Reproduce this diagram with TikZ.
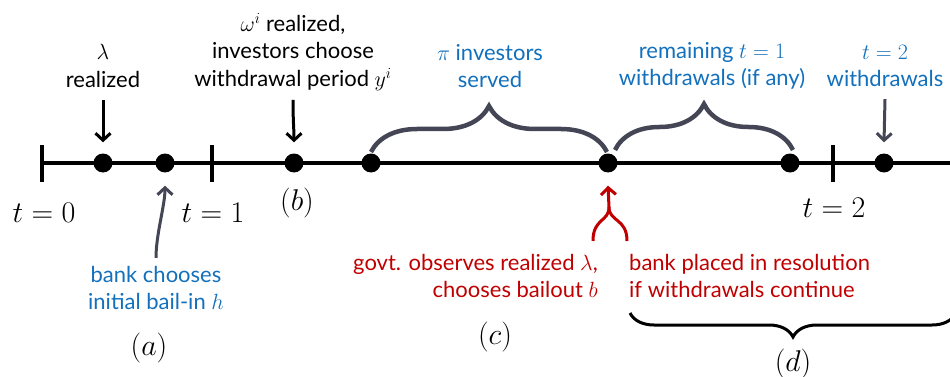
\RequirePackage{fix-cm}
\documentclass[tikz,border=0pt]{standalone}
\usepackage[no-math]{fontspec}
\setmainfont{Lato}
\usetikzlibrary{arrows.meta,calc,decorations.pathreplacing}
\definecolor{blue}{RGB}{18,112,188}
\definecolor{red}{RGB}{192,0,0}
\definecolor{slate}{RGB}{68,70,86}

\begin{document}
\begin{tikzpicture}[x=1pt,y=-1pt,
 dot/.style={circle,fill=black,inner sep=0pt,minimum size=19pt},
 lbl/.style={align=center,inner sep=0pt,font=\fontsize{22}{27.5}\selectfont},
 tlbl/.style={inner sep=0pt,font=\fontsize{30}{34}\selectfont},
 arrow/.style={-{Straight Barb[length=7pt,width=15pt]},line width=3pt},
 brace/.style={decorate,decoration={brace,amplitude=46pt},line width=4.5pt,draw=slate}
]
\useasboundingbox (0,0) rectangle (950,377);
% time line
\draw[line width=4pt] (40,163) -- (955,163);
\foreach \x in {42,212,833}
 \draw[line width=4pt] (\x,145) -- (\x,182);
\foreach \x [count=\i] in {103,165,294,371,608,790,884}
 \node[dot] (d\i) at (\x,163) {};
\node[tlbl] (t0) at (44,213) {$t=0$};
\node[tlbl] (t1) at (213,213) {$t=1$};
\node[tlbl] (t2) at (834,208) {$t=2$};
\node[tlbl] (lb) at (297,203) {$(b)$};
\node[tlbl] (la) at (149,348) {$(a)$};
\node[tlbl] (lc) at (495,337) {$(c)$};
\node[tlbl] (ld) at (793,364) {$(d)$};
% events above the line
\node[lbl] (lam) at (103,66) {$\lambda$\\realized};
\node[lbl] (omega) at (293,52) {$\omega^i$ realized,\\investors choose\\withdrawal period $y^i$};
\node[lbl,text=blue] (pi) at (490,66) {$\pi$ investors\\served};
\node[lbl,text=blue] (rem) at (712,66) {remaining $t=1$\\withdrawals (if any)};
\node[lbl,text=blue] (ttwo) at (885,66) {$t=2$\\withdrawals};
% events below the line
\node[lbl,text=blue] (bank) at (156,288) {bank chooses\\initial bail-in $h$};
\node[lbl,text=red,align=right,anchor=east] (govt) at (598,276)
 {govt. observes realized $\lambda$,\\chooses bailout $b$};
\node[lbl,text=red,align=left,anchor=west] (resol) at (629,276)
 {bank placed in resolution\\if withdrawals continue};
\draw[arrow] ([yshift=-12pt]lam.south) -- ([yshift=11pt]d1.north);
\draw[arrow] ([yshift=-9pt]omega.south) .. controls +(0,22) and +(0,-14) .. ([yshift=11pt]d3.north);
\draw[arrow,draw=slate] ([yshift=-12pt]ttwo.south) -- ([yshift=11pt]d7.north);
\draw[arrow,draw=slate] ([yshift=8pt]bank.north) .. controls +(0,-24) and +(0,20) .. ([yshift=-13pt]d2.south);
\coordinate (rl) at (593,241);
\coordinate (rr) at (627,241);
\coordinate (rm) at (609,207);
\draw[arrow,draw=red] (rl) .. controls (593,218) and (609,222) .. (rm) -- ([yshift=-13pt]d5.south);
\draw[line width=3pt,draw=red] (rr) .. controls (627,218) and (609,222) .. (rm);
% braces
\draw[brace] ($(d4)+(0,-11)$) -- ($(d5)+(-1,-11)$);
\draw[brace] ($(d5)+(7,-13)$) -- ($(d6)+(3,-13)$);
\coordinate (dl) at (630,313);
\coordinate (dr) at (956,313);
\draw[decorate,decoration={brace,amplitude=24pt},line width=3pt] (dr) -- (dl);
\end{tikzpicture}
\end{document}
